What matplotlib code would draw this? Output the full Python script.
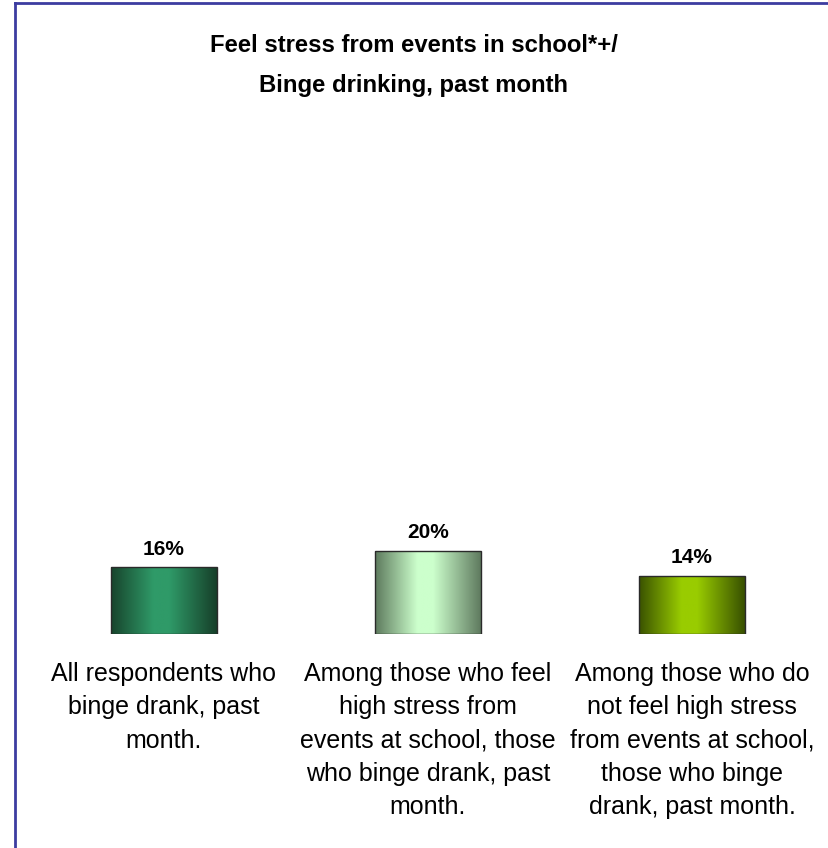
import numpy as np
import matplotlib
matplotlib.use("Agg")
import matplotlib.pyplot as plt
from matplotlib.colors import LinearSegmentedColormap
from matplotlib.lines import Line2D

plt.rcParams['font.family'] = ['Liberation Sans', 'DejaVu Sans']

categories = [
    "All respondents who\nbinge drank, past\nmonth.",
    "Among those who feel\nhigh stress from\nevents at school, those\nwho binge drank, past\nmonth.",
    "Among those who do\nnot feel high stress\nfrom events at school,\nthose who binge\ndrank, past month.",
]
values = [16, 20, 14]
value_labels = ["16%", "20%", "14%"]
title = "Feel stress from events in school*+/\nBinge drinking, past month"

gradients = [
    ["#17442c", "#2f9a68", "#163f29"],
    ["#5d7a5d", "#ccffcc", "#5f7a5f"],
    ["#3a5200", "#99cc00", "#385000"],
]

W, H = 829, 848
fig = plt.figure(figsize=(W / 100, H / 100), dpi=100)
fig.patch.set_facecolor("white")

# border (top and left visible)
fig.add_artist(Line2D([15 / W, 15 / W], [0, 1 - 3 / H], transform=fig.transFigure,
                      color="#3c3ca0", lw=2))
fig.add_artist(Line2D([15 / W, 1], [1 - 3 / H, 1 - 3 / H], transform=fig.transFigure,
                      color="#3c3ca0", lw=2))

fig.text(414 / W, 1 - 34 / H, title, ha="center", va="top", fontsize=17.2,
         fontweight="bold", linespacing=1.93)

ax = fig.add_axes([32 / W, (H - 634) / H, 792 / W, 417 / H])
ax.set_xlim(-0.5, 2.5)
ax.set_ylim(0, 100)
ax.axis("off")

x = np.arange(len(values))
bw = 0.40
bars = ax.bar(x, values, width=bw, color="none", edgecolor="#2a2a2a", linewidth=1, zorder=3)
grad = np.linspace(0, 1, 256).reshape(1, -1)
for i, (b, cols) in enumerate(zip(bars, gradients)):
    cmap = LinearSegmentedColormap.from_list(
        f"g{i}", [(0, cols[0]), (0.40, cols[1]), (0.55, cols[1]), (1, cols[2])])
    x0, y0 = b.get_x(), b.get_y()
    im = ax.imshow(grad, aspect="auto", cmap=cmap,
                   extent=[x0, x0 + b.get_width(), y0, y0 + b.get_height()], zorder=2)
    im.set_clip_path(b)
    ax.text(x[i], values[i] + 2.0, value_labels[i], ha="center", va="bottom",
            fontsize=15, fontweight="bold")
ax.set_xlim(-0.5, 2.5)
ax.set_ylim(0, 100)

for i, c in enumerate(categories):
    cx = ax.transData.transform((x[i], 0))[0] / fig.dpi / fig.get_figwidth()
    fig.text(cx, 1 - 662 / H, c, ha="center", va="top", fontsize=18,
             multialignment="center", linespacing=1.49)

fig.savefig("out.png", dpi=100, facecolor="white")
